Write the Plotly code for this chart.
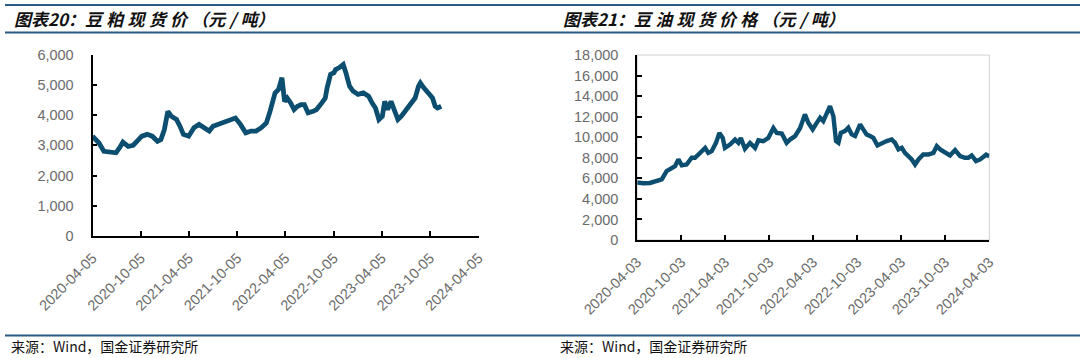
import plotly.graph_objects as go

# ---------------- data ----------------
meal_dates = [
    "2020-04-05", "2020-04-29", "2020-05-18", "2020-06-13", "2020-07-03", "2020-07-16",
    "2020-07-29", "2020-08-18", "2020-09-06", "2020-09-20", "2020-10-09", "2020-10-29",
    "2020-11-17", "2020-12-07", "2020-12-20", "2021-01-02", "2021-01-15", "2021-01-28",
    "2021-02-17", "2021-03-02", "2021-03-15", "2021-04-04", "2021-04-24", "2021-05-13",
    "2021-06-02", "2021-06-21", "2021-07-05", "2021-07-24", "2021-08-19", "2021-09-08",
    "2021-09-28", "2021-10-17", "2021-11-06", "2021-11-26", "2021-12-15", "2022-01-04",
    "2022-01-23", "2022-02-06", "2022-02-25", "2022-03-10", "2022-03-23", "2022-04-02",
    "2022-04-12", "2022-04-25", "2022-05-08", "2022-05-21", "2022-06-03", "2022-06-16",
    "2022-06-30", "2022-07-19", "2022-08-01", "2022-08-21", "2022-09-03", "2022-09-10",
    "2022-09-23", "2022-10-06", "2022-10-12", "2022-10-25", "2022-11-10", "2022-11-20",
    "2022-12-04", "2022-12-17", "2023-01-05", "2023-01-25", "2023-02-14", "2023-02-27",
    "2023-03-12", "2023-03-25", "2023-04-07", "2023-04-16", "2023-04-27", "2023-05-10",
    "2023-05-23", "2023-06-05", "2023-06-18", "2023-07-01", "2023-07-21", "2023-08-09",
    "2023-08-22", "2023-08-29", "2023-09-11", "2023-10-01", "2023-10-14", "2023-10-24",
    "2023-11-02", "2023-11-16",
]
meal_values = [
    3300, 3080, 2800, 2750, 2750, 2910,
    3100, 2960, 3000, 3130, 3300, 3360,
    3300, 3130, 3190, 3520, 4120, 3960,
    3850, 3630, 3360, 3300, 3580, 3690,
    3580, 3470, 3630, 3690, 3740, 3800,
    3900, 3690, 3410, 3470, 3470, 3580,
    3740, 4120, 4730, 4840, 5230, 4450,
    4560, 4400, 4180, 4290, 4340, 4340,
    4070, 4120, 4180, 4400, 4560, 4900,
    5340, 5400, 5500, 5560, 5670, 5400,
    4950, 4790, 4680, 4730, 4620, 4400,
    4230, 3850, 3960, 4450, 4180, 4450,
    4180, 3850, 3960, 4120, 4340, 4560,
    4950, 5060, 4900, 4680, 4560, 4290,
    4230, 4290,
]

oil_dates = [
    "2020-04-03", "2020-04-28", "2020-05-26", "2020-06-23", "2020-07-14", "2020-08-03",
    "2020-08-24", "2020-09-07", "2020-09-21", "2020-10-05", "2020-10-25", "2020-11-15",
    "2020-11-29", "2020-12-20", "2021-01-10", "2021-01-23", "2021-02-06", "2021-02-24",
    "2021-03-10", "2021-03-24", "2021-04-02", "2021-04-23", "2021-05-14", "2021-05-28",
    "2021-06-07", "2021-06-24", "2021-07-15", "2021-08-05", "2021-08-19", "2021-09-08",
    "2021-09-29", "2021-10-20", "2021-11-03", "2021-11-24", "2021-12-14", "2021-12-28",
    "2022-01-18", "2022-02-08", "2022-02-28", "2022-03-14", "2022-04-01", "2022-04-18",
    "2022-05-02", "2022-05-15", "2022-05-29", "2022-06-12", "2022-06-26", "2022-07-07",
    "2022-07-17", "2022-07-27", "2022-08-13", "2022-08-27", "2022-09-10", "2022-09-24",
    "2022-10-03", "2022-10-15", "2022-10-28", "2022-11-11", "2022-11-25", "2022-12-09",
    "2022-12-26", "2023-01-13", "2023-02-02", "2023-02-23", "2023-03-09", "2023-03-23",
    "2023-04-06", "2023-04-19", "2023-05-03", "2023-05-17", "2023-05-31", "2023-06-14",
    "2023-07-04", "2023-07-25", "2023-08-15", "2023-08-29", "2023-09-12", "2023-10-02",
    "2023-10-23", "2023-11-13", "2023-12-04", "2023-12-24", "2024-01-07", "2024-01-21",
    "2024-02-08", "2024-02-25", "2024-03-21", "2024-04-03",
]
oil_values = [
    5600, 5520, 5550, 5740, 5900, 6710,
    7030, 7190, 7840, 7260, 7350, 8000,
    8000, 8550, 8960, 8470, 8640, 9450,
    10420, 9930, 8960, 9290, 9770, 9450,
    9930, 8870, 9450, 8960, 9700, 9610,
    9930, 10900, 10420, 10360, 9450, 9770,
    10100, 10900, 12220, 11400, 10760, 11400,
    11890, 11570, 12380, 13030, 12050, 9620,
    9450, 10430, 10590, 10920, 10270, 10110,
    10590, 11250, 10760, 10270, 10110, 9940,
    9200, 9450, 9620, 9780, 9450, 8810,
    8970, 8480, 8160, 7840, 7350, 7840,
    8320, 8320, 8480, 9130, 8810, 8480,
    8230, 8750, 8160, 8000, 8000, 8230,
    7670, 7840, 8300, 8150,
]

meal_ticks = ["2020-04-05", "2020-10-05", "2021-04-05", "2021-10-05", "2022-04-05",
              "2022-10-05", "2023-04-05", "2023-10-05", "2024-04-05"]
oil_ticks = ["2020-04-03", "2020-10-03", "2021-04-03", "2021-10-03", "2022-04-03",
             "2022-10-03", "2023-04-03", "2023-10-03", "2024-04-03"]
meal_yticks = [0, 1000, 2000, 3000, 4000, 5000, 6000]
oil_yticks = [0, 2000, 4000, 6000, 8000, 10000, 12000, 14000, 16000, 18000]

title_left = "图表20：豆\u2005粕\u2005现\u2005货\u2005价\u2005（元\u2005/\u2005吨）"
title_right = "图表21：豆\u2005油\u2005现\u2005货\u2005价\u2005格\u2005（元\u2005/\u2005吨）"
source_text = "来源：Wind，国金证券研究所"

# ---------------- style ----------------
W, H = 1086, 358
LINE_COLOR = "#0c4e70"
RULE_COLOR = "#2a5a85"
TICK_FONT = dict(family="Liberation Sans, Arial, sans-serif", size=14.5, color="#6b6b6b")
CJK = "Noto Sans CJK SC, sans-serif"


def px_x(v):
    return v / W


def px_y(v):
    return 1 - v / H


fig = go.Figure()
fig.add_trace(go.Scatter(x=meal_dates, y=meal_values, mode="lines",
                         line=dict(color=LINE_COLOR, width=4.8), xaxis="x", yaxis="y",
                         showlegend=False))
fig.add_trace(go.Scatter(x=oil_dates, y=oil_values, mode="lines",
                         line=dict(color=LINE_COLOR, width=4.4), xaxis="x2", yaxis="y2",
                         showlegend=False))

common_x = dict(type="date", tickangle=-45, ticks="inside", ticklen=5, tickwidth=1.5,
                tickcolor="black", showline=True, linecolor="black", linewidth=1.8,
                showgrid=False, zeroline=False, tickfont=TICK_FONT, ticklabelstandoff=6,
                automargin=False)
common_y = dict(ticks="inside", ticklen=5, tickwidth=1.5, tickcolor="black",
                showline=True, linecolor="black", linewidth=1.8, showgrid=False,
                zeroline=False, tickfont=TICK_FONT, tickformat=",d", ticklabelstandoff=14,
                automargin=False)

fig.update_layout(
    width=W, height=H, margin=dict(l=0, r=0, t=0, b=0, pad=0), autosize=False,
    paper_bgcolor="white", plot_bgcolor="white",
    xaxis=dict(common_x, domain=[px_x(92.5), px_x(478.5)], anchor="y",
               range=[meal_ticks[0], meal_ticks[-1]], tickvals=meal_ticks, ticktext=meal_ticks),
    yaxis=dict(common_y, domain=[px_y(236), px_y(54.5)], anchor="x",
               range=[0, 6000], tickvals=meal_yticks),
    xaxis2=dict(common_x, domain=[px_x(637.2), px_x(989.3)], anchor="y2",
                range=[oil_ticks[0], oil_ticks[-1]], tickvals=oil_ticks, ticktext=oil_ticks),
    yaxis2=dict(common_y, domain=[px_y(240), px_y(55)], anchor="x2",
                range=[0, 18000], tickvals=oil_yticks),
)

# light frame on the right chart (top / right)
fig.add_shape(type="rect", xref="x2 domain", yref="y2 domain", x0=0, x1=1, y0=0, y1=1,
              line=dict(color="#d0d0d0", width=1), layer="below")

# header / footer rules
for y in (5, 32.5, 335.5):
    fig.add_shape(type="line", xref="paper", yref="paper",
                  x0=px_x(5), x1=px_x(1080), y0=px_y(y), y1=px_y(y),
                  line=dict(color=RULE_COLOR, width=2))

# titles
for x0, txt in ((11.5, title_left), (561, title_right)):
    fig.add_annotation(x=px_x(x0), y=px_y(18.5), xref="paper", yref="paper",
                       xanchor="left", yanchor="middle", showarrow=False, text=txt,
                       font=dict(family=CJK, size=17, color="#111111",
                                 weight="bold", style="italic"))

# sources
for x0 in (9, 558):
    fig.add_annotation(x=px_x(x0), y=px_y(346), xref="paper", yref="paper",
                       xanchor="left", yanchor="middle", showarrow=False, text=source_text,
                       font=dict(family=CJK, size=14, color="#111111"))

fig.write_html("out.html", config={"displayModeBar": False},
               post_script="document.body.style.margin='0';document.body.style.overflow='hidden';")
